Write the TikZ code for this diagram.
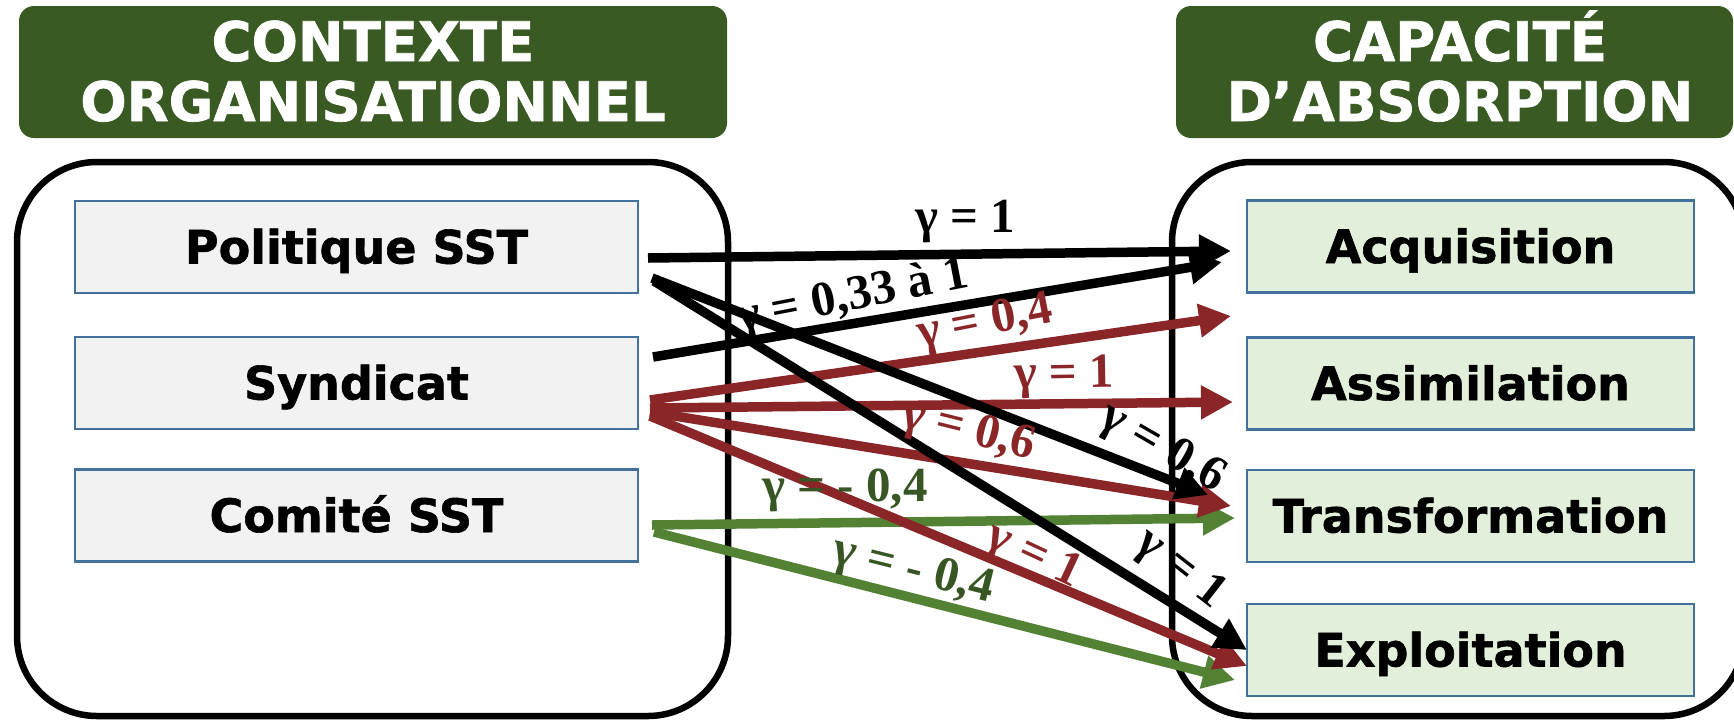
\documentclass[tikz,border=0pt]{standalone}
\usepackage{fontspec}
\setmainfont{Liberation Serif}
\newfontfamily\boxfont{DejaVu Sans}[BoldFeatures={FakeBold=1.3}]
\usetikzlibrary{arrows.meta}
\definecolor{hdrgreen}{HTML}{3A5A24}
\definecolor{arrred}{HTML}{8B2628}
\definecolor{arrgreen}{HTML}{548235}
\definecolor{lblgreen}{HTML}{375623}
\definecolor{boxgray}{HTML}{F2F2F2}
\definecolor{boxgreen}{HTML}{E2EFDA}
\definecolor{boxborder}{HTML}{41719C}
\begin{document}
\begin{tikzpicture}[x=1pt,y=-1pt,
 hdr/.style={fill=hdrgreen, draw=none, rounded corners=15pt, inner sep=0pt},
 hdrtxt/.style={text=white, font=\boxfont\bfseries\fontsize{54.5}{60}\selectfont, anchor=base, inner sep=0pt},
 bigbox/.style={draw=black, line width=6.5pt, rounded corners=80pt, inner sep=0pt},
 leftbox/.style={draw=boxborder, line width=2.2pt, fill=boxgray, minimum width=563pt, minimum height=92pt, inner sep=0pt, font=\boxfont\bfseries\fontsize{46}{50}\selectfont, text height=33pt, text depth=0pt},
 rightbox/.style={leftbox, fill=boxgreen, minimum width=447pt, minimum height=92pt},
 arr/.style={line width=9.5pt, -{Triangle[length=32pt,width=32pt]}},
 lbl/.style={font=\bfseries\fontsize{49}{50}\selectfont, inner sep=0pt},
]
\useasboundingbox (0,0) rectangle (1734,721);
\fill[white] (0,0) rectangle (1734,721);

% headers
\node[hdr, minimum width=708pt, minimum height=132pt] (hdrL) at (373,72) {};
\node[hdr, minimum width=557pt, minimum height=132pt] (hdrR) at (1454.5,72) {};
\node[hdrtxt] (hdrL1) at (373,61) {CONTEXTE};
\node[hdrtxt] (hdrL2) at (373,121) {ORGANISATIONNEL};
\node[hdrtxt] (hdrR1) at (1460,61) {CAPACITÉ};
\node[hdrtxt] (hdrR2) at (1460,121) {D’ABSORPTION};

% containers
\node[bigbox, minimum width=711pt, minimum height=554pt] (ctxL) at (372.5,439) {};
\node[bigbox, minimum width=572pt, minimum height=554pt] (ctxR) at (1458,439) {};

% boxes
\node[leftbox] (pol) at (356.5,247) {Politique SST};
\node[leftbox] (syn) at (356.5,383) {Syndicat};
\node[leftbox] (com) at (356.5,515.5) {Comité SST};
\node[rightbox] (acq) at (1470.5,246.5) {Acquisition};
\node[rightbox] (ass) at (1470.5,383.5) {Assimilation};
\node[rightbox] (tra) at (1470.5,516) {Transformation};
\node[rightbox] (exp) at (1470.5,650) {Exploitation};

% arrow end points
\coordinate (a1s) at (648,258);  \coordinate (a1e) at (1231,251);
\coordinate (a2s) at (653,357);  \coordinate (a2e) at (1222,262);
\coordinate (a3s) at (652,278);  \coordinate (a3e) at (1208,495);
\coordinate (a4s) at (654,281);  \coordinate (a4e) at (1247,650);
\coordinate (r1s) at (650,400);  \coordinate (r1e) at (1231,316);
\coordinate (r2s) at (650,408);  \coordinate (r2e) at (1233,402);
\coordinate (r3s) at (650,412);  \coordinate (r3e) at (1231,506);
\coordinate (r4s) at (650,416);  \coordinate (r4e) at (1247,666);
\coordinate (g1s) at (652,525);  \coordinate (g1e) at (1235,518);
\coordinate (g2s) at (654,532);  \coordinate (g2e) at (1235,680);

% arrows
\draw[arr, arrgreen] (g1s) -- (g1e);
\draw[arr, arrgreen] (g2s) -- (g2e);
\draw[arr, arrred] (r1s) -- (r1e);
\draw[arr, arrred] (r2s) -- (r2e);
\draw[arr, arrred] (r3s) -- (r3e);
\draw[arr, arrred] (r4s) -- (r4e);
\draw[arr, black] (a1s) -- (a1e);
\draw[arr, black] (a2s) -- (a2e);
\draw[arr, black] (a3s) -- (a3e);
\draw[arr, black] (a4s) -- (a4e);

% labels
\node[lbl] (la1) at (965,222) {γ = 1};
\node[lbl, rotate=11] (la2) at (853,298) {γ = 0,33 à 1};
\node[lbl, rotate=-30] (la3) at (1162,449) {γ = 0,6};
\node[lbl, rotate=-38] (la4) at (1180,570) {γ = 1};
\node[lbl, arrred, rotate=11] (lr1) at (985,324) {γ = 0,4};
\node[lbl, arrred, rotate=1] (lr2) at (1064,377) {γ = 1};
\node[lbl, arrred, rotate=-14] (lr3) at (968,432) {γ = 0,6};
\node[lbl, arrred, rotate=-25] (lr4) at (1033,557) {γ = 1};
\node[lbl, lblgreen] (lg1) at (845,490) {γ = - 0,4};
\node[lbl, lblgreen, rotate=-14] (lg2) at (913,572) {γ = - 0,4};
\end{tikzpicture}
\end{document}
